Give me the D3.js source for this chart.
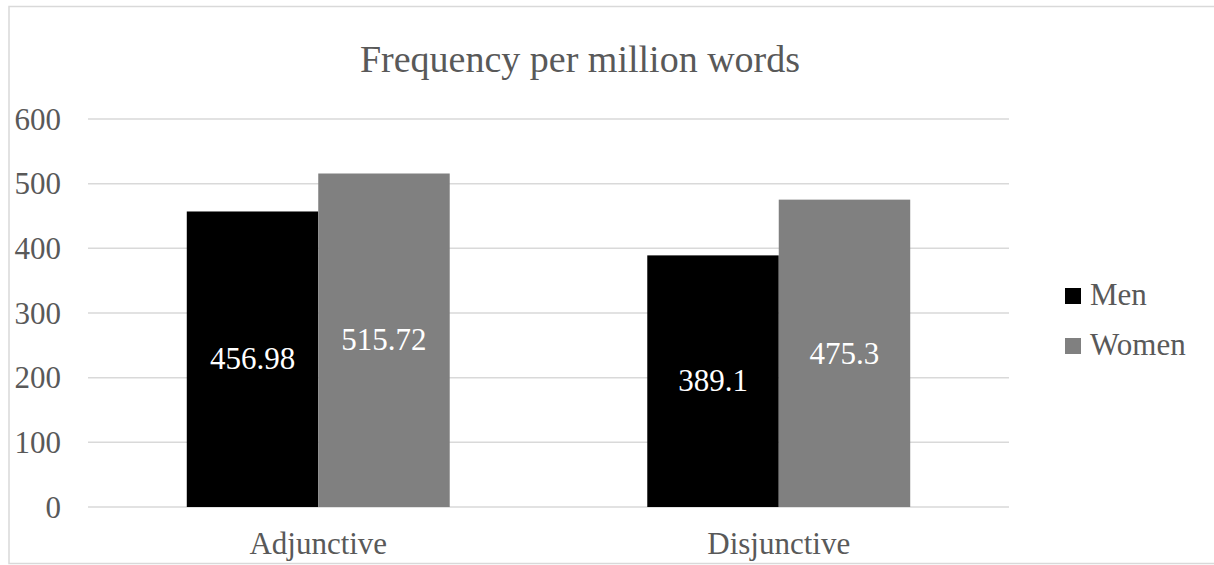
<!DOCTYPE html>
<html>
<head>
<meta charset="utf-8">
<script src="https://cdn.jsdelivr.net/npm/d3@7"></script>
<style>
  body { margin: 0; background: #fff; }
  text { font-family: 'Liberation Serif', 'Times New Roman', serif; }
</style>
</head>
<body>
<div id="chart"></div>
<script>
const categories = ['Adjunctive', 'Disjunctive'];
const seriesNames = ['Men', 'Women'];
const menValues = [456.98, 389.1];
const womenValues = [515.72, 475.3];
const yTicks = [0, 100, 200, 300, 400, 500, 600];

const svgWidth = 1214;
const svgHeight = 565;
const colors = { Men: '#000000', Women: '#808080' };
const textColor = '#595959';

const plot = { left: 88, right: 1009, top: 119, bottom: 507 };

const svg = d3.select('#chart')
  .append('svg')
  .attr('width', svgWidth)
  .attr('height', svgHeight);

// outer chart frame
svg.append('rect')
  .attr('x', 9)
  .attr('y', 6.5)
  .attr('width', svgWidth + 10)
  .attr('height', 557)
  .attr('fill', 'none')
  .attr('stroke', '#d9d9d9')
  .attr('stroke-width', 1.5);

const rows = categories.map((c, i) => ({
  category: c,
  Men: menValues[i],
  Women: womenValues[i],
}));

const x0 = d3.scaleBand()
  .domain(categories)
  .range([plot.left, plot.right])
  .paddingInner(0.429)
  .paddingOuter(0.2145);

const x1 = d3.scaleBand()
  .domain(seriesNames)
  .range([0, x0.bandwidth()])
  .padding(0);

const y = d3.scaleLinear()
  .domain([0, 600])
  .range([plot.bottom, plot.top]);

// gridlines
svg.append('g')
  .selectAll('line')
  .data(yTicks)
  .enter()
  .append('line')
  .attr('x1', plot.left)
  .attr('x2', plot.right)
  .attr('y1', (d) => y(d))
  .attr('y2', (d) => y(d))
  .attr('stroke', '#d9d9d9')
  .attr('stroke-width', 1.5);

// y axis labels
const leftAxis = d3.axisLeft(y).tickValues(yTicks).tickSize(0).tickPadding(0);
const yAxis = svg.append('g')
  .attr('transform', 'translate(61, 0)')
  .call(leftAxis);
yAxis.select('.domain').remove();
yAxis.selectAll('text')
  .attr('fill', textColor)
  .attr('font-size', '31px')
  .attr('font-family', "'Liberation Serif', serif")
  .attr('dy', '0.33em');

// bars
const groups = svg.append('g')
  .selectAll('g')
  .data(rows)
  .enter()
  .append('g')
  .attr('transform', (d) => `translate(${x0(d.category)}, 0)`);

const bars = groups.selectAll('rect')
  .data((d) => seriesNames.map((s) => ({ key: s, value: d[s] })))
  .enter();

bars.append('rect')
  .attr('x', (d) => x1(d.key))
  .attr('y', (d) => y(d.value))
  .attr('width', x1.bandwidth())
  .attr('height', (d) => y(0) - y(d.value))
  .attr('fill', (d) => colors[d.key]);

bars.append('text')
  .attr('x', (d) => x1(d.key) + x1.bandwidth() / 2)
  .attr('y', (d) => (y(d.value) + y(0)) / 2)
  .attr('dy', '0.33em')
  .attr('text-anchor', 'middle')
  .attr('fill', '#ffffff')
  .attr('font-size', '31px')
  .text((d) => d.value);

// category labels
const bottomAxis = d3.axisBottom(x0).tickSize(0).tickPadding(0);
const xAxis = svg.append('g')
  .attr('transform', 'translate(0, 554)')
  .call(bottomAxis);
xAxis.select('.domain').remove();
xAxis.selectAll('text')
  .attr('fill', textColor)
  .attr('font-size', '31px')
  .attr('font-family', "'Liberation Serif', serif")
  .attr('dy', 0);

// title
svg.append('text')
  .attr('x', 580)
  .attr('y', 72)
  .attr('text-anchor', 'middle')
  .attr('fill', textColor)
  .attr('font-size', '38px')
  .text('Frequency per million words');

// legend
const legend = svg.append('g')
  .selectAll('g')
  .data(seriesNames)
  .enter()
  .append('g')
  .attr('transform', (d, i) => `translate(1065, ${288 + i * 50})`);

legend.append('rect')
  .attr('width', 16)
  .attr('height', 16)
  .attr('fill', (d) => colors[d]);

legend.append('text')
  .attr('x', 25)
  .attr('y', 17)
  .attr('fill', textColor)
  .attr('font-size', '31px')
  .text((d) => d);
</script>
</body>
</html>
